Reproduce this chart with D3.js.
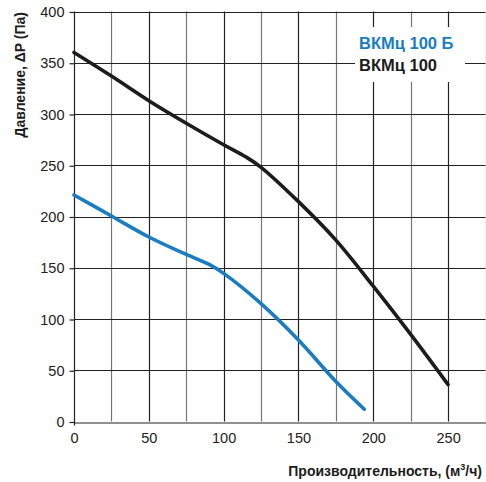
<!DOCTYPE html>
<html><head><meta charset="utf-8">
<script src="https://cdn.jsdelivr.net/npm/d3@7"></script>
<style>body{margin:0;background:#fff}svg{display:block;font-family:"Liberation Sans",Arial,sans-serif}</style>
</head><body><svg id="c" width="486" height="482"></svg>
<script>
const xTicks = [0, 50, 100, 150, 200, 250];
const yTicks = [0, 50, 100, 150, 200, 250, 300, 350, 400];
const xGrid = [25, 50, 75, 100, 125, 150, 175, 200, 225, 250, 275];
const seriesNames = ["ВКМц 100 Б", "ВКМц 100"];
const seriesColors = ["#1a7dc2", "#1c1c1c"];
const blueX = [0, 25, 50, 75, 90, 100, 125, 150, 175, 194];
const blueY = [221, 200.5, 180, 163, 153.5, 144.5, 115, 79.5, 39, 12];
const blackX = [0, 25, 50, 75, 100, 115, 125, 150, 175, 200, 225, 250];
const blackY = [360, 337, 313, 291, 270, 258, 248, 214.5, 177, 132, 85, 36];

const svg = d3.select("#c");
const x = d3.scaleLinear().domain([0, 275]).range([74, 485.5]);
const y = d3.scaleLinear().domain([0, 400]).range([421.5, 11.5]);

// grid
const g = svg.append("g");
g.selectAll(".vg").data(xGrid).join("line")
  .attr("x1", d => Math.round(x(d)) + 0.5).attr("x2", d => Math.round(x(d)) + 0.5)
  .attr("y1", y(400)).attr("y2", y(0))
  .attr("stroke", d => d % 50 === 0 ? "#222" : "#777").attr("stroke-width", 1.2);
g.selectAll(".hg").data(yTicks.slice(1)).join("line")
  .attr("x1", x(0)).attr("x2", x(275))
  .attr("y1", d => Math.round(y(d)) + 0.5).attr("y2", d => Math.round(y(d)) + 0.5)
  .attr("stroke", "#222").attr("stroke-width", 1.2);

// axes
const yAxis = d3.axisLeft(y).tickValues(yTicks).tickSize(5).tickPadding(5);
const ya = svg.append("g").attr("transform", `translate(${Math.round(x(0)) + 0.5},0.5)`).call(yAxis);
ya.select(".domain").remove();
ya.selectAll("line").attr("stroke", "#222").attr("stroke-width", 1.2);
ya.selectAll("text").attr("font-size", 14.5).attr("fill", "#222").attr("font-family", "Liberation Sans, Arial");
svg.append("line").attr("x1", Math.round(x(0)) + 0.5).attr("x2", Math.round(x(0)) + 0.5)
  .attr("y1", y(400)).attr("y2", y(0) + 4).attr("stroke", "#222").attr("stroke-width", 1.2);

const xAxis = d3.axisBottom(x).tickValues(xTicks).tickSize(0).tickPadding(10);
const xa = svg.append("g").attr("transform", `translate(0,${Math.round(y(0)) + 0.5})`).call(xAxis);
xa.select(".domain").attr("stroke", "#222").attr("stroke-width", 1.2);
xa.selectAll("text").attr("font-size", 14.5).attr("fill", "#222").attr("font-family", "Liberation Sans, Arial");

// curves
const line = d3.line().x(d => x(d[0])).y(d => y(d[1])).curve(d3.curveCatmullRom.alpha(0.5));
const blue = blueX.map((v, i) => [v, blueY[i]]);
const black = blackX.map((v, i) => [v, blackY[i]]);
svg.append("path").datum(black).attr("d", line).attr("fill", "none")
  .attr("stroke", seriesColors[1]).attr("stroke-width", 3.6).attr("stroke-linecap", "round");
svg.append("path").datum(blue).attr("d", line).attr("fill", "none")
  .attr("stroke", seriesColors[0]).attr("stroke-width", 3.6).attr("stroke-linecap", "round");

// legend
svg.append("rect").attr("x", 355).attr("y", 27).attr("width", 110).attr("height", 55).attr("fill", "#fff");
svg.selectAll(".lg").data(seriesNames).join("text")
  .attr("x", 359).attr("y", (d, i) => 48.5 + i * 22.5)
  .attr("font-size", 16.5).attr("font-weight", "bold")
  .attr("fill", (d, i) => seriesColors[i]).text(d => d);

// axis titles
svg.append("text").attr("transform", "translate(24.5,12) rotate(-90)")
  .attr("text-anchor", "end").attr("font-size", 14).attr("font-weight", "bold").attr("fill", "#1c1c1c")
  .text("Давление, ΔP (Па)");
const xt = svg.append("text").attr("x", 482).attr("y", 476).attr("text-anchor", "end")
  .attr("font-size", 14).attr("font-weight", "bold").attr("fill", "#1c1c1c");
xt.append("tspan").text("Производительность, (м");
xt.append("tspan").attr("font-size", 9).attr("dy", -6).text("3");
xt.append("tspan").attr("dy", 6).text("/ч)");
</script></body></html>
